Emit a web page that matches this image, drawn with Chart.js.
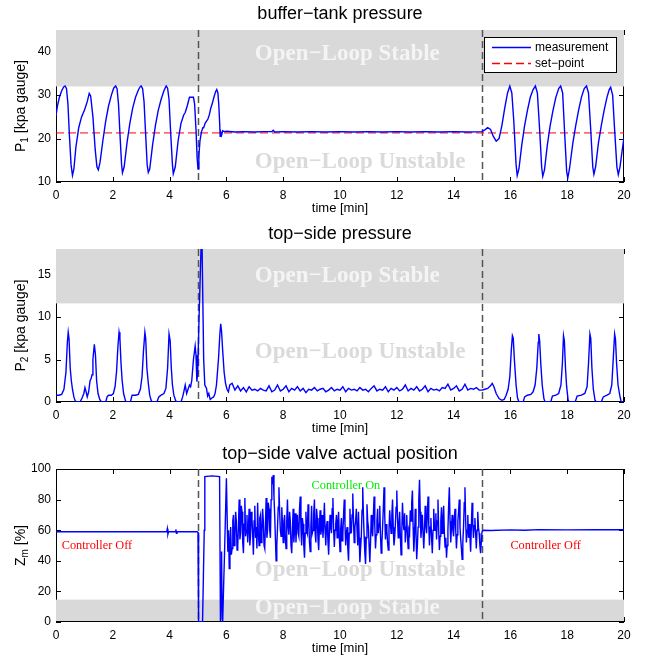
<!DOCTYPE html>
<html><head><meta charset="utf-8">
<script src="https://cdn.jsdelivr.net/npm/chart.js@4"></script>
<style>
html,body{margin:0;padding:0;background:#fff;width:647px;height:661px;overflow:hidden}
.box{position:absolute;left:0;width:647px}
</style></head><body>
<div class="box" style="top:0;height:215px"><canvas id="c1"></canvas></div>
<div class="box" style="top:220px;height:215px"><canvas id="c2"></canvas></div>
<div class="box" style="top:440px;height:221px"><canvas id="c3"></canvas></div>
<script>
// ---------- DATA ----------
const xTicks = [0, 2, 4, 6, 8, 10, 12, 14, 16, 18, 20];
const switchTimes = [5, 15];

// buffer-tank pressure P1 [t, kPa]
const p1SegA = [
 [0,25.2],[0.05,27.5],[0.12,29.5],[0.2,31],[0.27,31.9],[0.32,32.1],[0.37,31.5],[0.42,28],[0.47,21],[0.53,14],
 [0.58,11.5],[0.63,13],[0.7,18],[0.8,22.5],[0.9,25],[1.0,26.5],[1.05,27.5],[1.1,28.5],[1.17,30.4],[1.22,29.8],
 [1.3,25],[1.38,17.5],[1.44,13.5],[1.49,12.8],[1.55,14.5],[1.65,19.5],[1.75,24],[1.85,27.5],[1.95,30],[2.03,31.6],
 [2.1,32.1],[2.15,31.5],[2.2,28],[2.26,20],[2.31,14],[2.34,12.1],[2.4,13.5],[2.5,19],[2.6,23.5],[2.7,27],
 [2.8,29.5],[2.9,31.2],[2.97,32],[3.0,32.1],[3.05,31.5],[3.1,28.5],[3.16,20.5],[3.21,14],[3.25,12.2],[3.3,13],
 [3.4,18.5],[3.5,23],[3.6,26.5],[3.7,29],[3.8,31],[3.88,32.1],[3.93,31.6],[3.98,29],[4.04,21],[4.1,14],
 [4.13,11.9],[4.2,13.5],[4.3,19.5],[4.4,23.5],[4.5,25.5],[4.55,26],[4.62,27.5],[4.7,29.5],[4.84,29.5],[4.88,28],
 [4.93,22],[4.97,15.5],[5.0,13],[5.03,16],[5.07,19.5],[5.12,21.5],[5.17,22.5],[5.2,22.5],[5.25,23.5],[5.3,24],
 [5.35,24.5],[5.4,25.5],[5.45,27],[5.5,28],[5.56,29.5],[5.62,30.8],[5.66,31.3],[5.7,30.5],[5.73,28],[5.76,24],
 [5.78,20.5],[5.8,21.5],[5.83,20.8],[5.87,21.8],[5.92,21.6],[6.0,21.7]
];
const p1SegB = [
 [6.3,21.5],[6.6,21.6],[7.0,21.5],[7.3,21.6],[7.6,21.6],[7.65,21.9],[7.7,21.5],[8.0,21.6],[8.5,21.5],[9.0,21.6],
 [9.5,21.5],[10.0,21.6],[10.5,21.5],[11.0,21.6],[11.5,21.5],[12.0,21.6],[12.5,21.5],[13.0,21.6],[13.5,21.5],[14.0,21.6],
 [14.5,21.5],[15.0,21.6],[15.1,22],[15.2,22.5],[15.3,22.1],[15.4,20.5],[15.5,19.4],[15.6,20],[15.7,23],[15.8,27],
 [15.9,30.5],[15.98,32.1],[16.05,30.5],[16.12,24],[16.2,14],[16.24,11.5],[16.3,13],[16.4,18.5],[16.5,23],[16.6,26.5],
 [16.7,29.5],[16.8,31.3],[16.88,32.1],[16.95,30.5],[17.03,22],[17.1,13.5],[17.14,11.3],[17.2,12.8],[17.3,18.5],[17.4,23],
 [17.5,26.5],[17.6,29.5],[17.7,31.5],[17.77,32.1],[17.84,30.5],[17.92,20],[17.98,12.5],[18.02,10.9],[18.08,13],[18.2,19],
 [18.3,23],[18.4,26.5],[18.5,29.5],[18.6,31.5],[18.68,32.1],[18.75,30.5],[18.82,23],[18.9,13.5],[18.94,11.8],[19.0,13.5],
 [19.1,19],[19.2,23],[19.3,26.5],[19.4,29.5],[19.48,31.3],[19.53,31.8],[19.6,30],[19.67,22],[19.75,13.5],[19.8,11.7],
 [19.86,13.5],[19.93,17],[20,20.2]
];
const p1SetPoint = [[0,21.3],[20,21.3]];

// top-side pressure P2 [t, kPa]
const p2SegA = [
 [0,0.8],[0.1,0.8],[0.2,0.9],[0.28,1.5],[0.35,3.5],[0.4,7],[0.43,8.2],[0.46,7.4],[0.5,4],[0.54,2.5],
 [0.58,1.5],[0.63,0.6],[0.68,0.1],[0.75,0],[0.85,0],[0.92,0.5],[0.98,1.0],[1.02,1.7],[1.06,1.2],[1.1,0.6],
 [1.15,1.2],[1.2,2.5],[1.24,2.8],[1.27,3.2],[1.3,5],[1.35,6.8],[1.39,5.5],[1.43,2.5],[1.48,1.0],[1.54,0.3],
 [1.6,0],[1.75,0],[1.8,0.6],[1.85,0.8],[1.95,0.8],[2.02,1.0],[2.08,1.8],[2.13,3.5],[2.18,6.5],[2.22,8.2],
 [2.25,7.5],[2.29,4.5],[2.33,2.5],[2.38,1.0],[2.45,0.1],[2.5,0],[2.62,0],[2.68,0.8],[2.8,0.8],[2.9,0.9],
 [2.97,1.5],[3.03,3.0],[3.08,6],[3.13,8.2],[3.16,7.4],[3.2,4],[3.25,2.2],[3.3,0.8],[3.36,0.1],[3.42,0],
 [3.55,0],[3.62,0.6],[3.7,0.8],[3.8,1.0],[3.87,1.6],[3.93,4],[3.98,8.0],[4.02,7.2],[4.06,4],[4.1,2],
 [4.15,0.8],[4.22,0.1],[4.3,0],[4.4,0],[4.46,0.6],[4.5,1.2],[4.55,2.0],[4.6,1.0],[4.65,1.5],[4.7,2.0],
 [4.74,1.8],[4.78,2.5],[4.84,5],[4.9,6.6],[4.93,5.5],[4.96,2.4],[4.99,3.5],[5.03,9],[5.08,15],[5.11,18.5],
 [5.14,19],[5.17,12],[5.2,5],[5.24,2.0],[5.3,1.6],[5.34,0.7],[5.38,1.0],[5.43,0.3],[5.5,0.5],[5.55,0.6],
 [5.6,1.0],[5.65,2.0],[5.72,5],[5.77,8],[5.8,9.2],[5.83,8.3],[5.87,6],[5.92,3.5],[5.97,2.2],[6.02,1.5],
 [6.07,1.2],[6.12,2.0]
];
const p2NoiseStart = 6.2, p2NoiseStep = 0.1;
const p2Noise = [
 2.2,1.4,1.9,1.3,1.7,1.2,1.8,1.4,1.5,1.3,
 1.6,1.4,1.3,1.9,1.2,1.4,2.0,1.3,1.5,1.9,
 1.2,1.6,1.4,1.8,1.3,1.6,1.1,1.5,1.4,1.7,
 1.3,1.5,1.6,1.2,1.4,1.7,1.3,1.5,1.4,1.8,
 1.2,1.6,1.4,1.5,1.3,1.7,1.4,1.5,1.2,1.6,
 1.9,1.3,1.5,1.4,1.8,1.2,1.6,1.4,1.7,1.3,
 1.5,2.0,1.3,1.6,1.4,1.8,1.3,1.5,1.9,1.2,
 1.6,1.4,1.5,1.3,1.7,1.6,2.1,1.4,1.6,1.9,
 1.3,1.5,2.1,1.4,1.6,1.5,1.7,1.4
];
const p2SegB = [
 [15.0,1.4],[15.1,1.5],[15.2,1.6],[15.3,1.9],[15.36,2.2],[15.42,1.8],[15.5,1.0],[15.6,0.4],[15.7,0.2],[15.78,0.3],
 [15.85,0.8],[15.92,1.5],[15.98,3],[16.03,6],[16.07,7.8],[16.1,7.5],[16.14,5],[16.2,2],[16.25,0.5],[16.3,0],
 [16.45,0],[16.5,0.6],[16.6,0.8],[16.72,0.9],[16.8,1.2],[16.87,2],[16.93,4],[16.98,7],[17.0,8.0],[17.03,7.2],
 [17.07,4.5],[17.12,2],[17.18,0.4],[17.22,0],[17.42,0],[17.48,0.7],[17.6,0.8],[17.7,1.0],[17.78,2],[17.83,4.5],
 [17.87,7.8],[17.9,7.2],[17.94,4],[17.98,1.8],[18.03,0.3],[18.07,0],[18.28,0],[18.35,0.7],[18.5,0.8],[18.62,1.0],
 [18.7,1.8],[18.75,4.5],[18.8,8.0],[18.83,7.5],[18.87,4],[18.92,1.5],[18.98,0.2],[19.03,0],[19.2,0],[19.27,0.6],
 [19.4,0.8],[19.5,1.0],[19.57,2],[19.62,5],[19.67,8.0],[19.7,7.4],[19.74,4.5],[19.79,2],[19.85,0.8],[19.9,0],
 [20,0]
];

// top-side valve position Zm [t, %]
const p3SegA = [
 [0,59],[3.9,59],[3.92,61],[3.94,57.5],[3.96,59],[4.2,59],[4.22,60.5],[4.24,58],[4.26,59],[4.97,59],
 [5.0,58.5],[5.02,0],[5.16,0],[5.19,30],[5.22,60],[5.24,95],[5.5,95.5],[5.76,95],[5.79,0.5],[5.81,25],
 [5.83,46],[5.85,2],[5.87,0.5],[5.9,22],[5.93,42],[5.96,64],[6.0,94]
];
const p3NoiseStart = 6.05, p3NoiseStep = 0.025;
const p3Noise = [
 46,60,35,52,62,44,48,66,70,50,55,72,66,47,50,63,80,54,58,76,72,52,45,64,81,56,60,70,52,61,74,50,56,72,68,57,44,66,76,55,
 62,48,78,58,50,68,70,52,58,74,66,50,48,64,81,55,60,78,74,60,55,80,95,90,96,82,70,55,40,50,62,75,88,72,60,56,75,64,52,66,
 70,55,48,66,80,62,57,72,66,50,45,60,74,52,60,71,52,64,70,58,56,74,82,61,50,68,64,50,42,58,72,60,58,77,67,52,46,62,76,58,
 60,71,80,58,52,74,68,54,47,62,73,57,61,70,55,64,78,60,50,63,66,53,44,58,70,62,58,74,81,61,49,60,64,70,55,65,72,56,46,61,
 68,53,57,70,80,64,50,58,62,48,40,58,74,61,58,70,84,66,52,62,66,74,60,50,72,55,39,48,56,73,88,70,56,45,38,55,77,66,62,50,
 39,52,70,60,56,70,82,63,48,57,66,74,58,64,76,57,45,52,62,74,88,70,54,64,60,52,47,60,73,64,58,70,80,62,50,55,64,75,86,68,
 55,64,72,56,44,58,78,66,60,71,52,62,70,56,48,60,58,73,66,78,86,62,46,57,74,60,41,50,62,80,93,72,55,62,70,58,48,60,76,63,
 58,70,82,64,50,62,68,55,45,60,74,63,60,71,54,66,80,60,47,56,66,75,58,66,76,58,49,55,42,50,60,76,88,66,52,62,70,60,56,67,
 74,60,48,57,66,72,80,62,54,48,41,52,62,78,88,66,52,60,70,55,64,56,46,62,78,64,55,63,68,58,48,60,72,62,58,50,45,52,59
];
const p3SegB = [
 [15.05,60],[15.3,59.8],[16.0,60.2],[16.5,60],[17.0,60.4],[18.0,60.2],[19.0,60.3],[20,60.3]
];

// ---------- build ----------
const toXY = arr => arr.map(p => ({x: p[0], y: p[1]}));
const gridXY = (start, step, vals) => vals.map((v, i) => ({x: +(start + i * step).toFixed(4), y: v}));

const p1Data = toXY(p1SegA).concat(toXY(p1SegB));
const p2Data = toXY(p2SegA).concat(gridXY(p2NoiseStart, p2NoiseStep, p2Noise), toXY(p2SegB));
const p3Data = toXY(p3SegA).concat(gridXY(p3NoiseStart, p3NoiseStep, p3Noise), toXY(p3SegB));

Chart.defaults.font.family = '"Liberation Sans", Arial, sans-serif';
Chart.defaults.color = '#000';

const SANS = '"Liberation Sans", Arial, sans-serif';
const SERIF = '"Liberation Serif", "Times New Roman", serif';

function decor(cfg) {
  return {
    id: 'decor',
    beforeDatasetsDraw(chart) {
      const {ctx, chartArea: a, scales: {x, y}} = chart;
      ctx.save();
      ctx.strokeStyle = '#000'; ctx.lineWidth = 1;
      ctx.strokeRect(a.left + 0.5, a.top + 0.5, a.right - a.left - 1, a.bottom - a.top - 1);
      ctx.beginPath();
      x.ticks.forEach(t => {
        const px = Math.round(x.getPixelForValue(t.value)) + 0.5;
        ctx.moveTo(px, a.bottom); ctx.lineTo(px, a.bottom - 5);
        ctx.moveTo(px, a.top); ctx.lineTo(px, a.top + 5);
      });
      y.ticks.forEach(t => {
        const py = Math.round(y.getPixelForValue(t.value)) + 0.5;
        ctx.moveTo(a.left, py); ctx.lineTo(a.left + 5, py);
        ctx.moveTo(a.right, py); ctx.lineTo(a.right - 5, py);
      });
      ctx.stroke();
      // band
      const b1 = y.getPixelForValue(cfg.band[0]), b2 = y.getPixelForValue(cfg.band[1]);
      ctx.fillStyle = '#d9d9d9';
      ctx.fillRect(a.left, Math.min(b1, b2), a.right - a.left, Math.abs(b1 - b2));
      if (cfg.keepBottom) {
        ctx.beginPath(); ctx.moveTo(a.left, a.bottom - 0.5); ctx.lineTo(a.right, a.bottom - 0.5); ctx.stroke();
      }
      // texts
      ctx.textAlign = 'left'; ctx.textBaseline = 'alphabetic';
      cfg.texts.forEach(t => {
        ctx.font = t.font; ctx.fillStyle = t.color;
        ctx.fillText(t.text, x.getPixelForValue(t.x), y.getPixelForValue(t.y));
      });
      // switch lines
      ctx.setLineDash([7, 4]); ctx.strokeStyle = '#555'; ctx.lineWidth = 1.5;
      switchTimes.forEach(s => {
        const px = Math.round(x.getPixelForValue(s)) + 0.5;
        ctx.beginPath(); ctx.moveTo(px, a.top); ctx.lineTo(px, a.bottom); ctx.stroke();
      });
      ctx.restore();
    },
    afterDraw(chart) {
      const {ctx, chartArea: a} = chart;
      ctx.save();
      ctx.fillStyle = '#000';
      ctx.textAlign = 'center'; ctx.textBaseline = 'alphabetic';
      ctx.font = '18px ' + SANS;
      ctx.fillText(cfg.title, (a.left + a.right) / 2, 19);
      ctx.font = '13px ' + SANS;
      ctx.fillText('time [min]', (a.left + a.right) / 2, a.bottom + 30);
      // y label (rotated, with subscript)
      ctx.translate(25, (a.top + a.bottom) / 2);
      ctx.rotate(-Math.PI / 2);
      ctx.textAlign = 'left';
      const parts = cfg.ylabel;
      let total = 0;
      parts.forEach(p => { ctx.font = p.size + 'px ' + SANS; p.w = ctx.measureText(p.text).width; total += p.w; });
      let cx = -total / 2;
      parts.forEach(p => { ctx.font = p.size + 'px ' + SANS; ctx.fillText(p.text, cx, p.dy || 0); cx += p.w; });
      ctx.restore();
      if (cfg.legend) {
        ctx.save();
        ctx.fillStyle = '#fff'; ctx.strokeStyle = '#000'; ctx.lineWidth = 1;
        ctx.fillRect(484, 37, 133, 36);
        ctx.strokeRect(484.5, 37.5, 132, 35);
        ctx.lineWidth = 1.4;
        ctx.strokeStyle = '#0000ff';
        ctx.beginPath(); ctx.moveTo(492, 47.5); ctx.lineTo(531, 47.5); ctx.stroke();
        ctx.strokeStyle = '#ff0000'; ctx.setLineDash([8, 4]); ctx.lineWidth = 1.3;
        ctx.beginPath(); ctx.moveTo(492, 63.5); ctx.lineTo(531, 63.5); ctx.stroke();
        ctx.fillStyle = '#000'; ctx.font = '12px ' + SANS; ctx.textBaseline = 'middle';
        ctx.fillText('measurement', 535, 48);
        ctx.fillText('set\u2212point', 535, 64);
        ctx.restore();
      }
    }
  };
}

const openStable = 'Open\u2212Loop Stable';
const openUnstable = 'Open\u2212Loop Unstable';
const bandFont = 'bold 23px ' + SERIF;
const ctrlFont = '12.3px ' + SERIF;

function makeChart(id, datasets, ycfg, xHeight, padTop, cfg) {
  return new Chart(document.getElementById(id), {
    type: 'line',
    data: {datasets},
    options: {
      responsive: true, maintainAspectRatio: false, animation: false, devicePixelRatio: 1,
      layout: {padding: {top: padTop, right: 23, left: 0, bottom: 0}},
      plugins: {legend: {display: false}, tooltip: {enabled: false}, title: {display: false}},
      elements: {point: {radius: 0}, line: {tension: 0}},
      scales: {
        x: {
          type: 'linear', min: 0, max: 20,
          afterBuildTicks: s => { s.ticks = xTicks.map(v => ({value: v})); },
          ticks: {font: {size: 12}, padding: 6, color: '#000', maxRotation: 0},
          grid: {display: false, drawTicks: false}, border: {display: false},
          afterFit: s => { s.height = xHeight; }
        },
        y: {
          min: ycfg.min, max: ycfg.max,
          afterBuildTicks: s => { s.ticks = ycfg.ticks.map(v => ({value: v})); },
          ticks: {font: {size: 12}, padding: 5, color: '#000'},
          grid: {display: false, drawTicks: false}, border: {display: false},
          afterFit: s => { s.width = 56; }
        }
      }
    },
    plugins: [decor(cfg)]
  });
}

const blueLine = data => ({data, borderColor: '#0000ff', borderWidth: 1.4, pointRadius: 0, fill: false});

makeChart('c1', [
  blueLine(p1Data),
  {data: toXY(p1SetPoint), borderColor: '#ff0000', borderWidth: 1, borderDash: [8, 4], pointRadius: 0, fill: false}
], {min: 10, max: 45, ticks: [10, 20, 30, 40]}, 33, 30, {
  title: 'buffer\u2212tank pressure', band: [32, 45], legend: true,
  ylabel: [{text: 'P', size: 14}, {text: '1', size: 10, dy: 3}, {text: ' [kpa gauge]', size: 14}],
  texts: [
    {text: openStable, x: 7.0, y: 38.1, font: bandFont, color: '#f4f4f4'},
    {text: openUnstable, x: 7.0, y: 13.2, font: bandFont, color: '#dadada'}
  ]
});

makeChart('c2', [blueLine(p2Data)], {min: 0, max: 18, ticks: [0, 5, 10, 15]}, 33, 29, {
  title: 'top\u2212side pressure', band: [11.6, 18],
  ylabel: [{text: 'P', size: 14}, {text: '2', size: 10, dy: 3}, {text: ' [kpa gauge]', size: 14}],
  texts: [
    {text: openStable, x: 7.0, y: 14.1, font: bandFont, color: '#f4f4f4'},
    {text: openUnstable, x: 7.0, y: 5.2, font: bandFont, color: '#dadada'}
  ]
});

makeChart('c3', [blueLine(p3Data)], {min: 0, max: 100, ticks: [0, 20, 40, 60, 80, 100]}, 39, 29, {
  title: 'top\u2212side valve actual position', band: [0, 14.6], keepBottom: true,
  ylabel: [{text: 'Z', size: 14}, {text: 'm', size: 10, dy: 3}, {text: ' [%]', size: 14}],
  texts: [
    {text: openUnstable, x: 7.0, y: 29.8, font: bandFont, color: '#dadada'},
    {text: openStable, x: 7.0, y: 5.4, font: bandFont, color: '#f4f4f4'},
    {text: 'Controller Off', x: 0.2, y: 47.7, font: ctrlFont, color: '#ff0000'},
    {text: 'Controller Off', x: 16.0, y: 47.7, font: ctrlFont, color: '#ff0000'},
    {text: 'Controller On', x: 9.0, y: 87.1, font: ctrlFont, color: '#00ee00'}
  ]
});
</script>
</body></html>
